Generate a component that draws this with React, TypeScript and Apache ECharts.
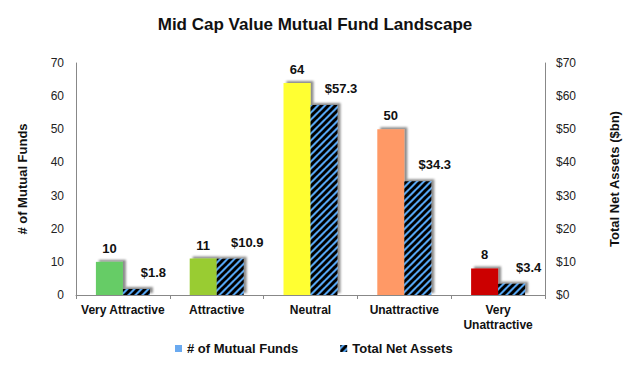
import React, { useEffect, useRef } from "react";
import * as echarts from "echarts";

const categories = ["Very Attractive", "Attractive", "Neutral", "Unattractive", "Very\nUnattractive"];
const fundCounts = [10, 11, 64, 50, 8];
const netAssets = [1.8, 10.9, 57.3, 34.3, 3.4];
const barColors = ["#66cc66", "#99cc33", "#ffff33", "#ff9966", "#cc0000"];
const leftTicks = [0, 70, 10];
const rightTicks = [0, 70, 10];

function makeStripes(): HTMLCanvasElement {
  const s = 7;
  const c = document.createElement("canvas");
  c.width = s;
  c.height = s;
  const ctx = c.getContext("2d")!;
  ctx.fillStyle = "#55a5f2";
  ctx.fillRect(0, 0, s, s);
  ctx.strokeStyle = "#000000";
  ctx.lineWidth = 3;
  for (const x0 of [-s, 0, s]) {
    ctx.beginPath();
    ctx.moveTo(x0 - 1, s + 1);
    ctx.lineTo(x0 + s + 1, -1);
    ctx.stroke();
  }
  return c;
}

export default function App() {
  const ref = useRef<HTMLDivElement>(null);
  useEffect(() => {
    if (!ref.current) return;
    const chart = echarts.init(ref.current, undefined, { renderer: "svg" });
    const stripes = { image: makeStripes(), repeat: "repeat" } as any;
    const font = "Liberation Sans, Arial, sans-serif";
    const shadow = {
      shadowColor: "rgba(0,0,0,0.45)",
      shadowBlur: 2,
      shadowOffsetX: 3,
      shadowOffsetY: -2,
    };
    chart.setOption({
      animation: false,
      textStyle: { fontFamily: font },
      title: {
        text: "Mid Cap Value Mutual Fund Landscape",
        left: "center",
        top: 11,
        textStyle: { fontSize: 17, fontWeight: "bold", color: "#111", fontFamily: font },
      },
      legend: {
        bottom: 8,
        left: 170,
        itemWidth: 7,
        itemHeight: 7,
        itemGap: 42,
        textStyle: { fontSize: 13, fontWeight: "bold", color: "#111", fontFamily: font },
        data: [
          { name: "# of Mutual Funds", icon: "rect" },
          { name: "Total Net Assets", icon: "rect" },
        ],
      },
      grid: { left: 76, right: 85, top: 63, bottom: 73 },
      xAxis: {
        type: "category",
        data: categories,
        axisLine: { lineStyle: { color: "#888" } },
        axisTick: { show: true, length: 4, lineStyle: { color: "#888" } },
        axisLabel: { fontSize: 12, fontWeight: "bold", color: "#111", margin: 7, lineHeight: 15, interval: 0 },
      },
      yAxis: [
        {
          type: "value",
          min: leftTicks[0],
          max: leftTicks[1],
          interval: leftTicks[2],
          name: "# of Mutual Funds",
          nameLocation: "middle",
          nameGap: 47,
          nameRotate: 90,
          nameTextStyle: { fontSize: 13, fontWeight: "bold", color: "#111" },
          axisLine: { show: true, lineStyle: { color: "#888" } },
          axisTick: { show: false },
          splitLine: { show: false },
          axisLabel: { fontSize: 12, color: "#222", margin: 12 },
        },
        {
          type: "value",
          min: rightTicks[0],
          max: rightTicks[1],
          interval: rightTicks[2],
          name: "Total Net Assets ($bn)",
          nameLocation: "middle",
          nameGap: 63,
          nameRotate: 90,
          nameTextStyle: { fontSize: 13, fontWeight: "bold", color: "#111" },
          axisLine: { show: true, lineStyle: { color: "#888" } },
          axisTick: { show: false },
          splitLine: { show: false },
          axisLabel: { fontSize: 12, color: "#222", margin: 11, formatter: "${value}" },
        },
      ],
      series: [
        {
          name: "# of Mutual Funds",
          type: "bar",
          yAxisIndex: 0,
          barWidth: 27,
          barGap: "0%",
          itemStyle: { color: "#6aaaf0", ...shadow },
          data: fundCounts.map((v, i) => ({ value: v, itemStyle: { color: barColors[i] } })),
          label: {
            show: true,
            position: "top",
            distance: 7,
            fontSize: 13,
            fontWeight: "bold",
            color: "#111",
          },
        },
        {
          name: "Total Net Assets",
          type: "bar",
          yAxisIndex: 1,
          barWidth: 27,
          barGap: "0%",
          itemStyle: { color: stripes, ...shadow },
          data: netAssets,
          label: {
            show: true,
            position: "top",
            distance: 6,
            offset: [17, -4],
            fontSize: 13,
            fontWeight: "bold",
            color: "#111",
            formatter: "${c}",
          },
        },
      ],
    });
    return () => chart.dispose();
  }, []);
  return <div ref={ref} style={{ position: "absolute", left: 0, top: 0, width: 630, height: 368 }} />;
}
